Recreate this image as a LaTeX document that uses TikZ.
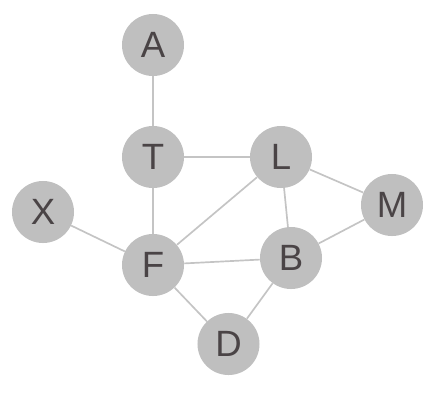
\documentclass[tikz,border=0pt]{standalone}
\usepackage{fontspec}
\setmainfont{Liberation Sans}
\definecolor{nodegray}{HTML}{BFBFBF}
\definecolor{edgegray}{HTML}{C4C4C4}
\definecolor{labelgray}{HTML}{4A4446}

\begin{document}
\begin{tikzpicture}[
  x=0.025cm,y=-0.025cm,
  vert/.style={circle,fill=nodegray,minimum size=1.55cm,inner sep=0pt,text=labelgray,font=\fontsize{26}{26}\selectfont},
  edge/.style={draw=edgegray,line width=1.2pt}]
\useasboundingbox (0,0) rectangle (448,403);
\node[vert] (a) at (153,45) {A};
\node[vert] (t) at (153,157) {T};
\node[vert] (l) at (281,157) {L};
\node[vert] (x) at (43,212) {X};
\node[vert] (m) at (392,205) {M};
\node[vert] (f) at (153,265) {F};
\node[vert] (b) at (291,258) {B};
\node[vert] (d) at (228.5,344) {D};
\draw[edge] (a) -- (t);
\draw[edge] (t) -- (l);
\draw[edge] (t) -- (f);
\draw[edge] (x) -- (f);
\draw[edge] (f) -- (l);
\draw[edge] (f) -- (b);
\draw[edge] (f) -- (d);
\draw[edge] (l) -- (b);
\draw[edge] (l) -- (m);
\draw[edge] (m) -- (b);
\draw[edge] (b) -- (d);
\end{tikzpicture}
\end{document}
